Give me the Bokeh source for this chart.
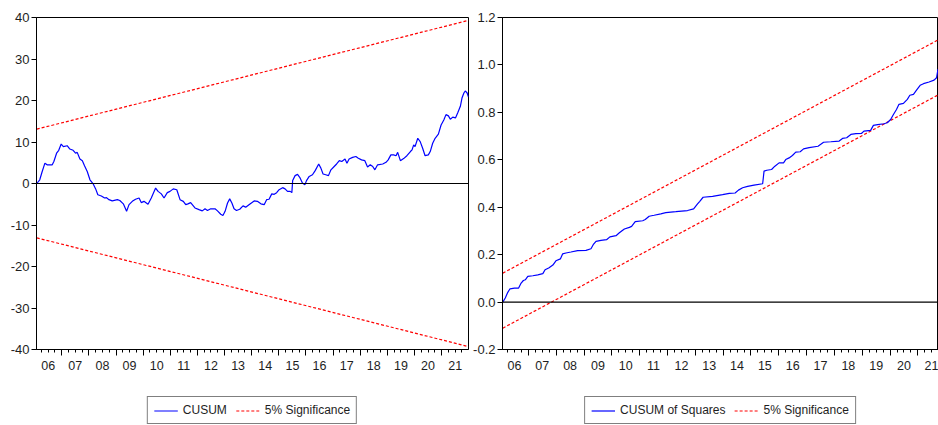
from bokeh.plotting import figure
from bokeh.models import Range1d, LinearAxis, FixedTicker, Legend, LegendItem, Span, PrintfTickFormatter
from bokeh.layouts import row, column
from bokeh.embed import file_html
from bokeh.resources import INLINE

FONT = "Liberation Sans"
TEXT_COLOR = "#1e1e1e"

YEAR_LABELS = ["06", "07", "08", "09", "10", "11", "12", "13", "14", "15",
               "16", "17", "18", "19", "20", "21"]
X_START, X_END = 2006.07, 2021.99
RIGHT_X_END = 2021.74  # right panel is cut at the picture edge

# CUSUM
CUSUM_DATES = [
    2006.08, 2006.19, 2006.28, 2006.38, 2006.46, 2006.65, 2006.71, 2006.81, 2006.89, 2006.98,
    2007.06, 2007.20, 2007.30, 2007.42, 2007.51, 2007.57, 2007.67, 2007.76, 2007.84, 2007.94,
    2008.04, 2008.16, 2008.25, 2008.33, 2008.46, 2008.58, 2008.65, 2008.74, 2008.86, 2009.05,
    2009.14, 2009.27, 2009.39, 2009.48, 2009.60, 2009.72, 2009.85, 2009.93, 2010.03, 2010.18,
    2010.30, 2010.46, 2010.55, 2010.67, 2010.77, 2010.89, 2010.99, 2011.11, 2011.24, 2011.36,
    2011.48, 2011.57, 2011.65, 2011.75, 2011.91, 2012.06, 2012.18, 2012.28, 2012.37, 2012.49,
    2012.65, 2012.74, 2012.86, 2012.94, 2013.02, 2013.11, 2013.19, 2013.27, 2013.35, 2013.44,
    2013.56, 2013.68, 2013.78, 2013.90, 2014.09, 2014.21, 2014.34, 2014.46, 2014.55, 2014.64,
    2014.74, 2014.83, 2014.92, 2015.01, 2015.14, 2015.23, 2015.32, 2015.42, 2015.48, 2015.51,
    2015.60, 2015.69, 2015.77, 2015.87, 2015.96, 2016.02, 2016.12, 2016.24, 2016.34, 2016.47,
    2016.55, 2016.63, 2016.73, 2016.83, 2016.92, 2017.04, 2017.13, 2017.23, 2017.32, 2017.44,
    2017.51, 2017.59, 2017.72, 2017.84, 2017.93, 2018.05, 2018.17, 2018.27, 2018.37, 2018.46,
    2018.54, 2018.64, 2018.83, 2018.95, 2019.03, 2019.13, 2019.23, 2019.32, 2019.38, 2019.48,
    2019.60, 2019.72, 2019.85, 2019.91, 2019.97, 2020.02, 2020.12, 2020.21, 2020.30, 2020.39,
    2020.51, 2020.58, 2020.67, 2020.76, 2020.88, 2020.98, 2021.08, 2021.16, 2021.25, 2021.32,
    2021.41, 2021.51, 2021.59, 2021.69, 2021.75, 2021.82, 2021.87, 2021.94, 2021.99]
CUSUM_VALUES = [
    0.0, 0.9, 2.9, 4.9, 4.5, 4.5, 5.3, 7.3, 8.0, 9.5,
    8.9, 9.1, 8.3, 8.0, 7.3, 7.5, 5.9, 5.5, 4.3, 2.9,
    0.9, -0.1, -1.3, -2.7, -3.0, -3.5, -3.4, -3.9, -4.2, -3.9,
    -4.1, -4.9, -6.7, -5.1, -4.3, -3.8, -3.5, -4.6, -4.3, -5.0,
    -3.5, -1.1, -1.9, -2.5, -3.5, -2.2, -1.9, -1.3, -1.5, -3.9,
    -4.3, -5.1, -4.9, -4.6, -5.9, -6.3, -6.6, -6.1, -6.5, -6.1,
    -6.1, -6.6, -7.4, -7.7, -6.7, -4.7, -3.7, -4.7, -6.1, -6.5,
    -6.2, -5.4, -5.7, -5.1, -4.2, -4.3, -4.9, -5.1, -3.9, -3.8,
    -2.5, -2.6, -2.2, -1.5, -1.0, -1.3, -1.9, -1.9, -2.2, 0.7,
    1.9, 2.2, 1.5, 0.1, -0.3, 0.7, 1.7, 2.1, 3.1, 4.7,
    3.7, 2.3, 2.1, 1.9, 3.3, 4.1, 4.7, 5.5, 5.3, 5.9,
    4.9, 5.9, 6.3, 6.5, 6.1, 5.7, 5.5, 4.0, 4.5, 4.1,
    3.3, 4.5, 4.7, 5.1, 5.7, 6.9, 6.9, 6.7, 7.5, 5.5,
    6.0, 6.7, 7.7, 8.1, 9.3, 8.9, 10.9, 10.1, 8.5, 6.7,
    6.9, 7.7, 9.7, 10.9, 11.9, 14.1, 15.3, 16.6, 16.3, 15.5,
    16.0, 15.8, 17.0, 18.6, 20.6, 21.8, 22.3, 21.8, 20.8]
BOUND_DATES = [2006.08, 2021.99]
CUSUM_UPPER = [13.1, 39.3]
CUSUM_LOWER = [-13.1, -39.3]

# CUSUM of Squares
CUSUMSQ_DATES = [
    2006.08, 2006.17, 2006.26, 2006.34, 2006.50, 2006.65, 2006.74, 2006.82, 2006.89, 2006.98,
    2007.16, 2007.34, 2007.52, 2007.60, 2007.73, 2007.88, 2007.99, 2008.15, 2008.23, 2008.35,
    2008.53, 2008.77, 2009.07, 2009.25, 2009.33, 2009.43, 2009.61, 2009.81, 2009.93, 2010.15,
    2010.27, 2010.45, 2010.63, 2010.71, 2010.84, 2011.11, 2011.20, 2011.34, 2011.52, 2011.76,
    2011.94, 2012.30, 2012.72, 2012.94, 2013.08, 2013.16, 2013.28, 2013.62, 2013.98, 2014.22,
    2014.43, 2014.55, 2014.70, 2014.88, 2015.11, 2015.42, 2015.47, 2015.57, 2015.74, 2015.86,
    2016.01, 2016.17, 2016.25, 2016.37, 2016.49, 2016.61, 2016.77, 2016.89, 2017.09, 2017.41,
    2017.61, 2017.87, 2018.17, 2018.29, 2018.44, 2018.59, 2018.77, 2018.97, 2019.06, 2019.30,
    2019.40, 2019.55, 2019.78, 2019.90, 2020.02, 2020.12, 2020.23, 2020.32, 2020.48, 2020.62,
    2020.71, 2020.84, 2020.95, 2021.08, 2021.20, 2021.40, 2021.58, 2021.67, 2021.72, 2021.99]
CUSUMSQ_VALUES = [
    0.000, 0.017, 0.041, 0.056, 0.059, 0.059, 0.080, 0.091, 0.094, 0.108,
    0.111, 0.115, 0.120, 0.136, 0.144, 0.156, 0.174, 0.182, 0.203, 0.207,
    0.211, 0.217, 0.218, 0.225, 0.242, 0.256, 0.260, 0.263, 0.275, 0.280,
    0.292, 0.308, 0.315, 0.319, 0.339, 0.343, 0.348, 0.362, 0.366, 0.372,
    0.377, 0.381, 0.386, 0.393, 0.414, 0.425, 0.442, 0.446, 0.453, 0.458,
    0.460, 0.472, 0.482, 0.488, 0.493, 0.499, 0.552, 0.556, 0.559, 0.573,
    0.587, 0.587, 0.601, 0.608, 0.618, 0.632, 0.634, 0.646, 0.651, 0.657,
    0.674, 0.676, 0.679, 0.690, 0.693, 0.707, 0.710, 0.711, 0.721, 0.724,
    0.745, 0.748, 0.752, 0.756, 0.770, 0.791, 0.812, 0.834, 0.838, 0.855,
    0.872, 0.876, 0.894, 0.914, 0.921, 0.928, 0.936, 0.946, 0.981, 1.000]
CUSUMSQ_UPPER = [0.122, 1.122]
CUSUMSQ_LOWER = [-0.110, 0.890]

LEFT_YTICKS = [-40, -30, -20, -10, 0, 10, 20, 30, 40]
RIGHT_YTICKS = [-0.2, 0.0, 0.2, 0.4, 0.6, 0.8, 1.0, 1.2]

years = [2000 + int(s) for s in YEAR_LABELS]
year_bounds = [y for y in years[1:]]
quarters = [y + q / 4 for y in years for q in range(4) if X_START <= y + q / 4 <= X_END]
mid_years = [y + 0.5 for y in years]
label_map = {y + 0.5: s for y, s in zip(years, YEAR_LABELS)}
blank_map = {y: "" for y in year_bounds}

MAIN_COLOR = "#0000ff"
BAND_COLOR = "#ff0000"


def make_panel(width, border_left, border_right, x_end, y_range, yticks, yfmt,
               series_x, series_y, upper, lower):
    p = figure(width=width, height=385, x_range=Range1d(X_START, x_end), y_range=y_range,
               output_backend="svg", toolbar_location=None, x_axis_type=None,
               min_border_left=border_left, min_border_right=border_right, min_border_top=17,
               min_border_bottom=36)
    p.background_fill_color = "white"
    p.border_fill_color = "white"
    p.outline_line_color = "black"
    p.outline_line_width = 1
    p.xgrid.visible = False
    p.ygrid.visible = False

    yax = p.yaxis[0]
    yax.ticker = FixedTicker(ticks=yticks)
    yax.formatter = PrintfTickFormatter(format=yfmt)
    yax.major_tick_out = 5
    yax.major_tick_in = 0
    yax.minor_tick_out = 0
    yax.minor_tick_in = 0
    yax.major_label_standoff = 2
    yax.major_label_text_font = FONT
    yax.major_label_text_font_size = "13px"
    yax.major_label_text_color = TEXT_COLOR
    yax.axis_line_color = "black"
    yax.major_tick_line_color = "black"

    tick_axis = LinearAxis(ticker=FixedTicker(ticks=year_bounds, minor_ticks=quarters))
    tick_axis.major_tick_out = 6
    tick_axis.major_tick_in = 0
    tick_axis.minor_tick_out = 3
    tick_axis.minor_tick_in = 0
    tick_axis.major_label_overrides = blank_map
    tick_axis.major_label_text_font_size = "1px"
    tick_axis.major_label_standoff = 0
    tick_axis.axis_line_color = "black"
    tick_axis.major_tick_line_color = "black"
    tick_axis.minor_tick_line_color = "black"
    p.add_layout(tick_axis, "below")

    label_axis = LinearAxis(ticker=FixedTicker(ticks=mid_years))
    label_axis.major_label_overrides = label_map
    label_axis.major_tick_out = 0
    label_axis.major_tick_in = 0
    label_axis.minor_tick_out = 0
    label_axis.minor_tick_in = 0
    label_axis.axis_line_color = None
    label_axis.major_tick_line_color = None
    label_axis.minor_tick_line_color = None
    label_axis.major_label_standoff = 5
    label_axis.major_label_text_font = FONT
    label_axis.major_label_text_font_size = "12.5px"
    label_axis.major_label_text_color = TEXT_COLOR
    p.add_layout(label_axis, "below")

    p.add_layout(Span(location=0, dimension="width", line_color="black", line_width=1.2))

    p.line(BOUND_DATES, upper, line_color=BAND_COLOR, line_width=1.2, line_dash="3 2")
    p.line(BOUND_DATES, lower, line_color=BAND_COLOR, line_width=1.2, line_dash="3 2")
    p.line(series_x, series_y, line_color=MAIN_COLOR, line_width=1.2)
    return p


def make_legend(width, border_left, border_right, series_label, series_x, series_y, upper):
    # legend strip: the series are drawn out of this strip's view, only the key shows
    q = figure(width=width, height=40, x_range=Range1d(0, 1), y_range=Range1d(0, 1),
               output_backend="svg", toolbar_location=None,
               x_axis_location=None, y_axis_location=None,
               min_border_left=border_left, min_border_right=border_right,
               min_border_top=0, min_border_bottom=0)
    q.outline_line_color = None
    q.background_fill_color = "white"
    q.border_fill_color = "white"
    q.xgrid.visible = False
    q.ygrid.visible = False
    r_main = q.line(series_x, series_y, line_color=MAIN_COLOR, line_width=1.2)
    r_band = q.line(BOUND_DATES, upper, line_color=BAND_COLOR, line_width=1.2, line_dash="3 2")
    legend = Legend(items=[LegendItem(label=series_label, renderers=[r_main]),
                           LegendItem(label="5% Significance", renderers=[r_band])],
                    location="bottom_center", orientation="horizontal")
    legend.border_line_color = "black"
    legend.border_line_width = 1
    legend.background_fill_color = "white"
    legend.background_fill_alpha = 1.0
    legend.label_text_font = FONT
    legend.label_text_font_size = "12px"
    legend.label_text_color = TEXT_COLOR
    legend.glyph_width = 24
    legend.glyph_height = 13
    legend.label_height = 13
    legend.label_standoff = 5
    legend.spacing = 9
    legend.padding = 6
    legend.margin = 1
    q.add_layout(legend, "center")
    return q


left = make_panel(469, 36, 1, X_END, Range1d(-40, 40), LEFT_YTICKS, "%d",
                  CUSUM_DATES, CUSUM_VALUES, CUSUM_UPPER, CUSUM_LOWER)
right = make_panel(469, 33, 0, RIGHT_X_END, Range1d(-0.2, 1.2), RIGHT_YTICKS, "%.1f",
                   CUSUMSQ_DATES, CUSUMSQ_VALUES, CUSUMSQ_UPPER, CUSUMSQ_LOWER)
left_leg = make_legend(469, 36, 1, "CUSUM", CUSUM_DATES, CUSUM_VALUES, CUSUM_UPPER)
right_leg = make_legend(469, 33, 0, "CUSUM of Squares", CUSUMSQ_DATES, CUSUMSQ_VALUES,
                        CUSUMSQ_UPPER)

layout = column(row(left, right), row(left_leg, right_leg))
open("out.html", "w").write(file_html(layout, INLINE))
